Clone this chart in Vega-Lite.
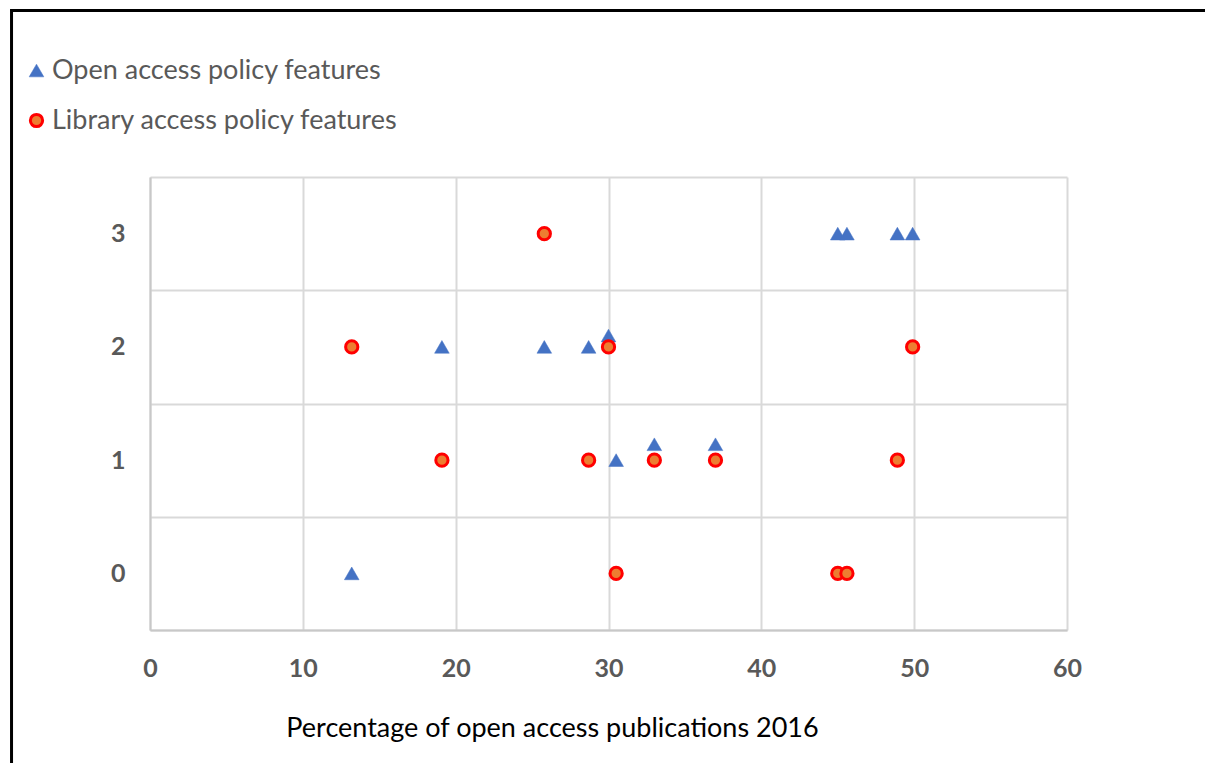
{
  "$schema": "https://vega.github.io/schema/vega-lite/v6.json",
  "width": 917,
  "height": 453,
  "autosize": {"type": "none"},
  "padding": {"left": 150, "top": 177, "right": 138, "bottom": 133},
  "background": "white",
  "config": {"view": {"stroke": null}, "font": "Lato"},
  "data": {
    "values": [
      {"series": "Open access policy features", "pct": 13.2, "features": 0},
      {"series": "Open access policy features", "pct": 19.1, "features": 2},
      {"series": "Open access policy features", "pct": 25.8, "features": 2},
      {"series": "Open access policy features", "pct": 28.7, "features": 2},
      {"series": "Open access policy features", "pct": 30.0, "features": 2.1},
      {"series": "Open access policy features", "pct": 30.5, "features": 1},
      {"series": "Open access policy features", "pct": 33.0, "features": 1.14},
      {"series": "Open access policy features", "pct": 37.0, "features": 1.14},
      {"series": "Open access policy features", "pct": 45.0, "features": 3},
      {"series": "Open access policy features", "pct": 45.6, "features": 3},
      {"series": "Open access policy features", "pct": 48.9, "features": 3},
      {"series": "Open access policy features", "pct": 49.9, "features": 3},
      {"series": "Library access policy features", "pct": 13.2, "features": 2},
      {"series": "Library access policy features", "pct": 19.1, "features": 1},
      {"series": "Library access policy features", "pct": 25.8, "features": 3},
      {"series": "Library access policy features", "pct": 28.7, "features": 1},
      {"series": "Library access policy features", "pct": 30.0, "features": 2},
      {"series": "Library access policy features", "pct": 30.5, "features": 0},
      {"series": "Library access policy features", "pct": 33.0, "features": 1},
      {"series": "Library access policy features", "pct": 37.0, "features": 1},
      {"series": "Library access policy features", "pct": 45.0, "features": 0},
      {"series": "Library access policy features", "pct": 45.6, "features": 0},
      {"series": "Library access policy features", "pct": 48.9, "features": 1},
      {"series": "Library access policy features", "pct": 49.9, "features": 2}
    ]
  },
  "layer": [
    {
      "mark": {"type": "point", "filled": true, "opacity": 1},
      "encoding": {
        "x": {
          "field": "pct",
          "type": "quantitative",
          "scale": {"domain": [0, 60], "nice": false, "zero": false},
          "axis": {
            "values": [0, 10, 20, 30, 40, 50, 60],
            "grid": true,
            "gridColor": "#d9d9d9",
            "gridWidth": 2,
            "domain": true,
            "domainColor": "#c8c8c8",
            "domainWidth": 2,
            "ticks": false,
            "labelPadding": 26,
            "labelFlush": false,
            "labelOverlap": false,
            "labelFont": "Lato",
            "labelFontWeight": "bold",
            "labelFontSize": 25,
            "labelColor": "#595959",
            "title": "Percentage of open access publications 2016",
            "titleFont": "Lato",
            "titleFontWeight": "normal",
            "titleFontSize": 27,
            "titleColor": "#000000",
            "titleX": 402,
            "titleY": 98,
            "titleAlign": "center",
            "titleBaseline": "middle"
          }
        },
        "y": {
          "field": "features",
          "type": "quantitative",
          "scale": {"domain": [-0.5, 3.5], "nice": false, "zero": false},
          "axis": {
            "values": [-0.5, 0.5, 1.5, 2.5, 3.5],
            "labelExpr": "datum.value < 3 ? format(datum.value + 0.5, 'd') : ''",
            "labelOffset": -56.6,
            "grid": true,
            "gridColor": "#d9d9d9",
            "gridWidth": 2,
            "domain": true,
            "domainColor": "#c8c8c8",
            "domainWidth": 2,
            "ticks": false,
            "labelPadding": 25,
            "labelOverlap": false,
            "labelBound": false,
            "labelFont": "Lato",
            "labelFontWeight": "bold",
            "labelFontSize": 25,
            "labelColor": "#595959",
            "title": null
          }
        },
        "shape": {
          "field": "series",
          "type": "nominal",
          "sort": null,
          "scale": {
            "domain": ["Open access policy features", "Library access policy features"],
            "range": ["triangle-up", "circle"]
          },
          "legend": {
            "orient": "none",
            "legendX": -127,
            "legendY": -120,
            "title": null,
            "padding": 0,
            "labelFont": "Lato",
            "labelFontSize": 27,
            "labelLimit": 0,
            "labelColor": "#595959",
            "labelOffset": 2,
            "rowPadding": 22
          }
        },
        "fill": {
          "field": "series",
          "type": "nominal",
          "scale": {
            "domain": ["Open access policy features", "Library access policy features"],
            "range": ["#4472C4", "#ED7D31"]
          }
        },
        "stroke": {
          "field": "series",
          "type": "nominal",
          "scale": {
            "domain": ["Open access policy features", "Library access policy features"],
            "range": ["#4472C4", "#FF0000"]
          }
        },
        "strokeWidth": {
          "field": "series",
          "type": "nominal",
          "scale": {
            "domain": ["Open access policy features", "Library access policy features"],
            "range": [0.5, 3]
          }
        },
        "size": {
          "field": "series",
          "type": "nominal",
          "scale": {
            "domain": ["Open access policy features", "Library access policy features"],
            "range": [215, 150]
          }
        }
      }
    },
    {
      "data": {"values": [{"frame": "border"}]},
      "mark": {"type": "rect", "clip": false, "fill": null, "stroke": "#000000", "strokeWidth": 3},
      "encoding": {
        "x": {"datum": -9.06, "type": "quantitative"},
        "x2": {"datum": 80},
        "y": {"datum": 4.97, "type": "quantitative"},
        "y2": {"datum": -2.5}
      }
    }
  ]
}
